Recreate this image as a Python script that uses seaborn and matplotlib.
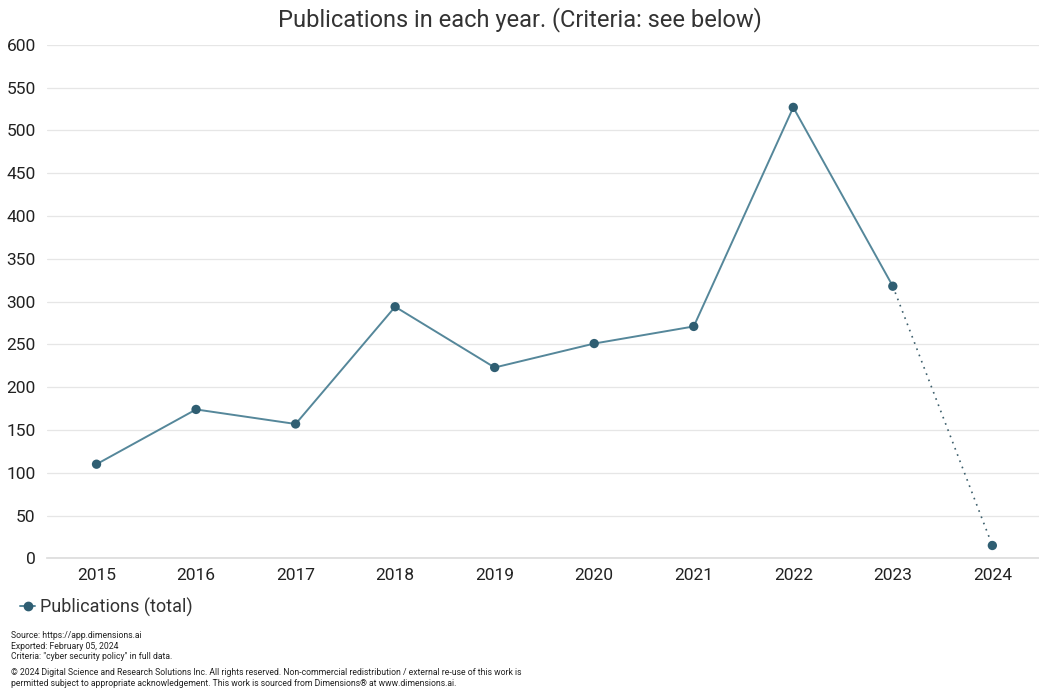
import matplotlib
matplotlib.use("Agg")
import matplotlib.pyplot as plt
import seaborn as sns
import pandas as pd
from matplotlib.lines import Line2D

years = [2015, 2016, 2017, 2018, 2019, 2020, 2021, 2022, 2023, 2024]
publications = [110, 174, 157, 294, 223, 251, 271, 527, 318, 15]
y_ticks = [0, 50, 100, 150, 200, 250, 300, 350, 400, 450, 500, 550, 600]

LINE = '#55879a'
MARK = '#2f5e72'

sns.set_theme(style="white")
plt.rcParams['font.family'] = ['Roboto', 'DejaVu Sans']

df = pd.DataFrame({'year': years, 'pubs': publications})
solid = df[df.year <= 2023]
dotted = df[df.year >= 2023]

fig = plt.figure(figsize=(10.39, 6.91), dpi=100)
ax = fig.add_axes([0.045, 0.192, 0.958, 0.743])

sns.lineplot(data=solid, x='year', y='pubs', ax=ax, color=LINE, lw=1.4)
sns.lineplot(data=dotted, x='year', y='pubs', ax=ax, color='#3d5f6c', lw=1.2, linestyle=(0, (1, 3)))
sns.scatterplot(data=df, x='year', y='pubs', ax=ax, color=MARK, s=45, edgecolor='none', zorder=5)

ax.set_xlim(2014.5, 2024.5)
ax.set_ylim(0, 600)
ax.set_xticks(years)
ax.set_xticklabels([str(y) for y in years])
ax.set_yticks(y_ticks)
ax.yaxis.grid(True, color='#e6e6e6', lw=0.9)
ax.xaxis.grid(False)
for s in ['top', 'right', 'left']:
    ax.spines[s].set_visible(False)
ax.spines['bottom'].set_color('#dddddd')
ax.tick_params(axis='both', labelsize=12.5, colors='#222222', length=0, pad=7)
ax.tick_params(axis='y', pad=8)
ax.set_xlabel('')
ax.set_ylabel('')

fig.text(0.5, 0.972, 'Publications in each year. (Criteria: see below)',
         ha='center', va='center', fontsize=17, color='#333333')

handle = Line2D([], [], color=LINE, lw=1.4, marker='o', markersize=6,
                markerfacecolor=MARK, markeredgecolor=MARK)
fig.legend([handle], ['Publications (total)'], loc='center left',
           bbox_to_anchor=(0.004, 0.121), frameon=False, fontsize=13,
           handlelength=0.8, handletextpad=0.3, labelcolor='#333333')

fig.text(0.011, 0.087, 'Source: https://app.dimensions.ai\nExported: February 05, 2024\n'
         'Criteria: "cyber security policy" in full data.',
         ha='left', va='top', fontsize=6.2, color='#222222', linespacing=1.25)
fig.text(0.011, 0.033, '\u00a9 2024 Digital Science and Research Solutions Inc. All rights reserved. '
         'Non-commercial redistribution / external re-use of this work is\npermitted subject to '
         'appropriate acknowledgement. This work is sourced from Dimensions\u00ae at www.dimensions.ai.',
         ha='left', va='top', fontsize=6.2, color='#222222', linespacing=1.25)

fig.savefig('out.png', dpi=100)
